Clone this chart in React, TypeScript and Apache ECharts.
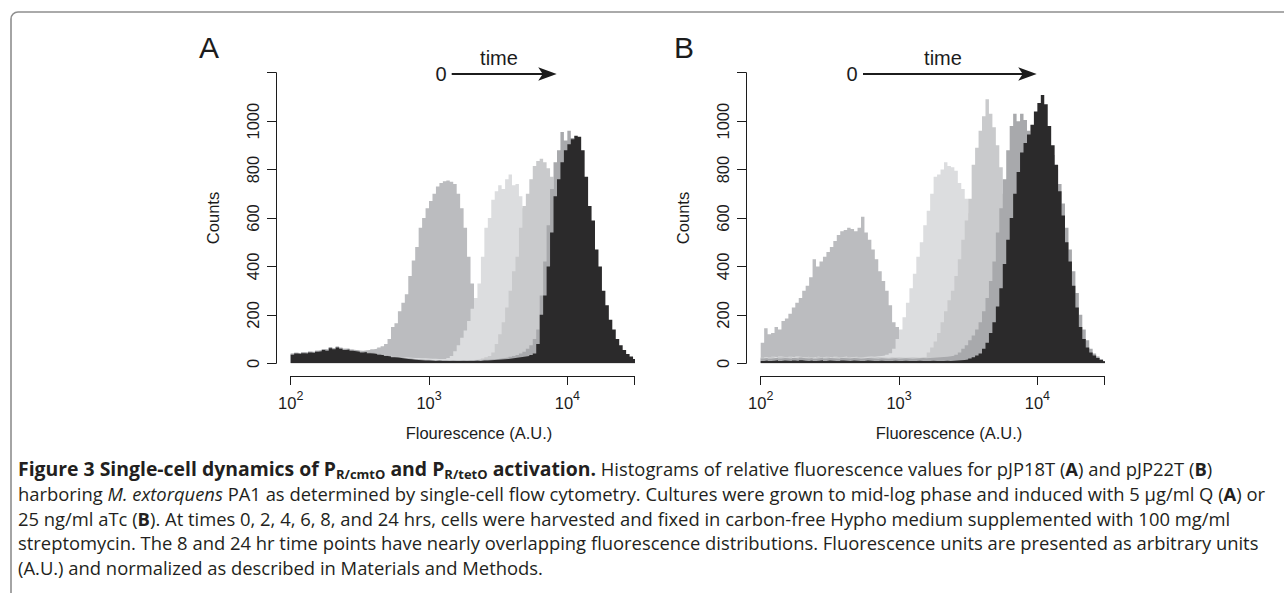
import React, { useEffect, useRef } from "react";
import * as echarts from "echarts";

// ---- histogram binning (log10 of fluorescence) ----
const LOG_START = 2; // first bin starts at 10^2
const BIN_WIDTH = 0.025; // decades per bin
const X_MIN = 100;
const X_MAX = 30480; // right end of the fluorescence axis
const Y_MAX = 1200;
const Y_STEP = 200;

const TIME_LABELS = ["0 h", "2 h", "4 h", "6 h", "8–24 h"];
const SHADES = ["#bbbcbf", "#dcdddf", "#c9cacc", "#a8a9ac", "#2b2a2b"];

// ---- Panel A (pJP18T, Q induction): counts per bin ----
const A_T0 = [
  39, 44, 42, 46, 44, 49, 47, 52, 53, 58, 56, 66, 63, 69, 64, 60, 61, 57, 55, 53, 52, 54, 55, 58,
  60, 65, 70, 80, 100, 150, 165, 215, 250, 285, 360, 425, 480, 560, 600, 640, 670, 700, 730, 745,
  752, 755, 750, 740, 700, 640, 560, 440, 330, 260, 190, 140, 100, 70, 50, 36,
  27, 21, 17, 14, 12, 11, 10, 9, 8, 8, 7, 7, 6, 6, 5, 5, 5, 4, 4, 4, 4, 3, 3, 3, 3, 3, 2, 2, 2, 2,
  2, 2, 2, 1, 1, 1, 1, 1, 1, 1,
];
const A_T2 = [
  37, 43, 40, 45, 42, 46, 46, 50, 51, 56, 55, 63, 61, 67, 61, 57, 58, 55, 51, 50, 48, 48, 45, 43,
  41, 38, 35, 33, 31, 29, 27, 26, 25, 24, 23, 22, 22, 21, 21, 20,
  19, 19, 18, 18,
  18, 22, 30, 50, 75, 105, 135, 175, 225, 270, 330, 440, 560, 600, 675, 710, 735, 720, 760, 780,
  735, 740, 690, 640, 560, 470, 380, 290, 210, 150, 100, 70, 48, 32, 22, 16,
  12, 10, 9, 8, 7, 6, 6, 5, 5, 4, 4, 4, 3, 3, 3, 3, 2, 2, 2, 2,
];
const A_T4 = [
  38, 42, 41, 44, 43, 47, 45, 50, 52, 57, 54, 64, 60, 66, 62, 58, 59, 54, 52, 50, 47, 49, 44, 42,
  40, 37, 35, 32, 30, 27, 26, 24, 22, 20, 19, 17, 16, 15, 14, 14,
  13, 12, 13, 12, 12, 11, 12, 11, 11, 12, 12, 13, 14, 15, 17, 20,
  25, 30, 45, 80, 120, 170, 230, 300, 380, 440, 560, 650, 700, 760, 815, 835, 845, 830, 805, 770,
  700, 600, 480, 360, 260, 180, 120, 80, 55, 38, 27, 20,
  15, 12, 10, 9, 8, 7, 6, 6, 5, 5, 4, 4,
];
const A_T6 = [
  40, 44, 42, 46, 45, 48, 47, 52, 54, 58, 56, 66, 62, 68, 64, 60, 60, 56, 54, 52, 49, 50, 46, 44,
  42, 39, 36, 33, 31, 28, 27, 25, 23, 21, 20, 18, 17, 16, 15, 15,
  14, 13, 14, 13, 13, 12, 13, 12, 12, 13, 12, 13, 13, 14, 13, 15, 15, 16, 17, 18,
  20, 22, 24, 27, 30, 34, 40, 48,
  60, 75, 100, 140, 280, 420, 570, 720, 830, 880, 955, 920, 960, 930, 900, 850,
  700, 580, 460, 350, 260, 190, 140, 100, 70, 50, 36, 26, 18, 13, 10, 8,
];
const A_T24 = [
  35, 40, 38, 42, 40, 45, 43, 48, 50, 55, 52, 62, 58, 65, 60, 55, 57, 52, 50, 48, 45, 47, 42, 40,
  38, 35, 33, 30, 28, 25, 24, 22, 20, 18, 17, 15, 14, 13, 12, 12,
  11, 10, 11, 10, 10, 9, 10, 9, 9, 10, 9, 10, 10, 11, 10, 12, 12, 13, 14, 15, 16, 17, 18, 20, 22, 24, 26, 28,
  30, 34, 40, 80, 200, 280, 400, 540, 690, 760, 830, 880, 905, 925, 940, 935,
  880, 770, 650, 590, 470, 400, 300, 240, 180, 140, 100, 75, 55, 38, 28, 18,
];

// ---- Panel B (pJP22T, aTc induction): counts per bin ----
const B_T0 = [
  85, 145, 120, 125, 150, 140, 175, 185, 205, 230, 250, 270, 300, 320, 355, 430, 400, 420, 440, 460,
  480, 505, 530, 545, 550, 560, 555, 545, 560, 605, 540, 510, 470, 430, 380, 340, 300, 240, 170, 150,
  110, 80, 55, 40, 30, 22, 17, 14,
  12, 10, 9, 8, 7, 7, 6, 6, 5, 5, 5, 4, 4, 4, 4, 3, 3, 3, 3, 3,
  2, 2, 2, 2, 2, 2, 2, 2,
  1, 1, 1, 1, 1, 1, 1, 1, 1, 1, 1, 1, 1, 1, 1, 1, 1, 1, 1, 1, 1, 1, 1, 1,
];
const B_T2 = [
  22, 26, 24, 27, 25, 28, 26, 24, 27, 25, 28, 26, 25, 27, 24, 26, 28, 25, 27, 26, 24, 27, 25, 26,
  28, 25, 26, 27, 24, 26, 27, 28, 27, 29, 30, 32,
  35, 42, 60, 100, 140, 190, 250, 310, 370, 440, 500, 570, 630, 700, 770, 780, 800, 830, 815, 810,
  795, 745, 720, 680, 620, 540, 450, 360, 280, 210, 150, 100, 70, 50, 35, 25,
  18, 14, 11, 9, 8, 7, 6, 5, 5, 4, 4, 4, 3, 3, 3, 3, 2, 2, 2, 2, 2, 2, 1, 1, 1, 1, 1, 1,
];
const B_T4 = [
  24, 23, 26, 25, 22, 27, 25, 24, 26, 23, 25, 27, 24, 26, 25, 23, 26, 24, 25, 27, 23, 25, 26, 24,
  25, 27, 24, 25, 26, 24, 23, 25, 24, 26, 25, 24, 23, 25, 24, 25, 24, 23, 24, 25, 24, 23, 25, 25,
  45, 65, 90, 125, 170, 215, 260, 300, 360, 430, 510, 590, 680, 820, 890, 960, 1020, 1090, 1030, 975,
  900, 810, 700, 580, 460, 350, 260, 190, 140, 100, 70, 50,
  35, 25, 18, 13, 10, 8, 7, 6, 5, 4, 4, 3, 3, 3, 2, 2, 2, 2, 1, 1,
];
const B_T6 = [
  20, 22, 19, 21, 23, 20, 22, 21, 19, 22, 20, 23, 21, 20, 22, 19, 21, 23, 20, 22,
  21, 20, 19, 22, 21, 20, 22, 21, 19, 20, 22, 21, 20, 19, 21, 20, 19, 20, 21, 19,
  20, 21, 20, 19, 20, 21, 22, 21, 22, 23, 24, 25, 26, 27, 29, 31,
  35, 45, 60, 75, 95, 115, 140, 170, 215, 270, 340, 420, 540, 640, 760, 880, 980, 1030, 1000, 1030,
  1005, 960, 930, 930, 920, 900, 870, 840, 860, 800, 740, 660, 560, 470, 380, 290, 200, 140, 95, 60,
  40, 28, 18, 10,
];
const B_T24 = [
  10, 12, 9, 11, 13, 10, 12, 11, 9, 12, 10, 13, 11, 10, 12, 9, 11, 13, 10, 12,
  11, 10, 9, 12, 11, 10, 12, 11, 9, 10, 12, 11, 10, 9, 11, 10, 9, 10, 11, 9,
  10, 11, 10, 9, 10, 11, 10, 9, 10, 11, 10, 9, 10, 11, 10, 11,
  12, 13, 14, 16, 20, 25, 32, 40, 60, 85, 125, 170, 235, 310, 410, 510, 600, 700, 790, 870,
  910, 945, 985, 1040, 1075, 1108, 1070, 980, 900, 820, 710, 610, 500, 420, 320, 230, 150, 100, 65, 45,
  32, 22, 14, 8,
];

const PANEL_SERIES = [
  [A_T0, A_T2, A_T4, A_T6, A_T24],
  [B_T0, B_T2, B_T4, B_T6, B_T24],
];
const PANEL_LETTERS = ["A", "B"];
const X_TITLES = ["Flourescence (A.U.)", "Fluorescence (A.U.)"];
const Y_TITLE = "Counts";

const CAPTION = [
  "{t|Figure 3 Single-cell dynamics of P}{ts|R/cmtO}{t|\u00a0and P}{ts|R/tetO}{t|\u00a0activation.}\u00a0Histograms of relative fluorescence values for pJP18T ({b|A}) and pJP22T ({b|B})",
  "harboring {i|M. extorquens}\u00a0PA1 as determined by single-cell flow cytometry. Cultures were grown to mid-log phase and induced with 5 μg/ml Q ({b|A}) or",
  "25 ng/ml aTc ({b|B}). At times 0, 2, 4, 6, 8, and 24 hrs, cells were harvested and fixed in carbon-free Hypho medium supplemented with 100 mg/ml",
  "streptomycin. The 8 and 24 hr time points have nearly overlapping fluorescence distributions. Fluorescence units are presented as arbitrary units",
  "(A.U.) and normalized as described in Materials and Methods.",
];

// ---- layout (pixels) ----
const W = 1284;
const H = 593;
const CHART_FONT = "'Liberation Sans', Arial, Helvetica, sans-serif";
const CAPTION_FONT = "'Open Sans', 'Noto Sans', sans-serif";
const INK = "#1c1c1c";
const CAP_INK = "#231f20";
const GRID_LEFTS = [290.7, 760.7];
const GRID_TOP = 72.7;
const GRID_W = 343.6;
const GRID_H = 290.6;
const CAP_SIZE = 18.4;
const CAP_TITLE = 19.4;
const CAP_LH = 24;

function toSteps(values: number[]) {
  const pts = values.map((v, k) => [Math.pow(10, LOG_START + k * BIN_WIDTH), v]);
  pts.push([Math.pow(10, LOG_START + values.length * BIN_WIDTH), values[values.length - 1]]);
  return pts;
}

function text(x: number, y: number, str: string, extra: any = {}, rotation = 0) {
  return {
    type: "text",
    x,
    y,
    rotation,
    silent: true,
    style: {
      text: str,
      fill: INK,
      fontFamily: CHART_FONT,
      fontSize: 16.5,
      align: "center",
      verticalAlign: "middle",
      textAlign: "center",
      textVerticalAlign: "middle",
      ...extra,
    },
  };
}

function arrow(x0: number, x1: number, y: number) {
  return [
    {
      type: "line",
      silent: true,
      shape: { x1: x0, y1: y, x2: x1 - 12, y2: y },
      style: { stroke: INK, lineWidth: 1.8 },
    },
    {
      type: "polygon",
      silent: true,
      shape: {
        points: [
          [x1 - 18.5, y - 6.7],
          [x1, y],
          [x1 - 18.5, y + 6.7],
          [x1 - 14, y],
        ],
      },
      style: { fill: INK },
    },
  ];
}

function buildOption() {
  const grid = GRID_LEFTS.map((left) => ({ left, top: GRID_TOP, width: GRID_W, height: GRID_H }));

  const xAxis = GRID_LEFTS.map((_, gi) => ({
    type: "log",
    logBase: 10,
    gridIndex: gi,
    min: X_MIN,
    max: X_MAX,
    position: "bottom",
    offset: 12.7,
    axisLine: { show: true, onZero: false, lineStyle: { color: INK, width: 1 } },
    axisTick: { show: true, length: 9, lineStyle: { color: INK, width: 1 } },
    minorTick: { show: false },
    splitLine: { show: false },
    axisLabel: {
      margin: 13,
      formatter: (v: number) => {
        const e = Math.log10(v);
        const r = Math.round(e);
        return Math.abs(e - r) < 1e-6 ? `{b|10}{s|${r}}` : "";
      },
      rich: {
        b: { fontSize: 16.5, fontFamily: CHART_FONT, color: INK, lineHeight: 22, verticalAlign: "bottom" },
        s: { fontSize: 12.5, fontFamily: CHART_FONT, color: INK, lineHeight: 12, verticalAlign: "top" },
      },
    },
  }));

  const yAxis = GRID_LEFTS.map((_, gi) => ({
    type: "value",
    gridIndex: gi,
    min: 0,
    max: Y_MAX,
    interval: Y_STEP,
    position: "left",
    offset: 14.7,
    axisLine: { show: true, onZero: false, lineStyle: { color: INK, width: 1 } },
    axisTick: { show: true, length: 9, lineStyle: { color: INK, width: 1 } },
    splitLine: { show: false },
    axisLabel: {
      rotate: 90,
      margin: 15,
      fontSize: 16.5,
      fontFamily: CHART_FONT,
      color: INK,
      formatter: (v: number) => (v === Y_MAX ? "" : String(v)),
    },
  }));

  const series: any[] = [];
  PANEL_SERIES.forEach((panel, gi) => {
    panel.forEach((vals, si) => {
      series.push({
        type: "line",
        name: `${PANEL_LETTERS[gi]} ${TIME_LABELS[si]}`,
        xAxisIndex: gi,
        yAxisIndex: gi,
        step: "end",
        symbol: "none",
        showSymbol: false,
        silent: true,
        clip: true,
        lineStyle: { width: 0, color: SHADES[si] },
        itemStyle: { color: SHADES[si] },
        areaStyle: { color: SHADES[si], opacity: 1 },
        data: toSteps(vals),
      });
    });
  });

  const capRich = {
    t: { fontWeight: "bold", fontFamily: CAPTION_FONT, fontSize: CAP_TITLE, fill: CAP_INK, color: CAP_INK, lineHeight: CAP_LH, verticalAlign: "middle" },
    ts: { fontWeight: "bold", fontFamily: CAPTION_FONT, fontSize: 13, fill: CAP_INK, color: CAP_INK, lineHeight: 12, verticalAlign: "bottom" },
    b: { fontWeight: "bold", fontFamily: CAPTION_FONT, fontSize: CAP_SIZE, fill: CAP_INK, color: CAP_INK, lineHeight: CAP_LH, verticalAlign: "middle" },
    i: { fontStyle: "italic", fontFamily: CAPTION_FONT, fontSize: CAP_SIZE, fill: CAP_INK, color: CAP_INK, lineHeight: CAP_LH, verticalAlign: "middle" },
  };
  const CAP_Y = [468, 493, 518, 542.5, 567];

  const graphic: any[] = [
    {
      type: "rect",
      silent: true,
      shape: { x: 11, y: 12, width: 1500, height: 800, r: [7, 0, 0, 0] },
      style: { fill: "none", stroke: "#8e8e8e", lineWidth: 1.6 },
    },
    text(209, 47, PANEL_LETTERS[0], { fontSize: 30 }),
    text(684, 47, PANEL_LETTERS[1], { fontSize: 30 }),
    text(441, 74, "0", { fontSize: 20 }),
    text(499, 57.5, "time", { fontSize: 20 }),
    ...arrow(451.7, 556.7, 74),
    text(852, 74, "0", { fontSize: 20 }),
    text(943, 57.5, "time", { fontSize: 20 }),
    ...arrow(863, 1036.7, 74),
    text(213, 218, Y_TITLE, {}, Math.PI / 2),
    text(683, 218, Y_TITLE, {}, Math.PI / 2),
    text(479, 433, X_TITLES[0]),
    text(949, 433, X_TITLES[1]),
    ...CAPTION.map((line, i) => ({
      type: "text",
      x: 18,
      y: CAP_Y[i],
      silent: true,
      style: {
        text: line,
        fill: CAP_INK,
        fontFamily: CAPTION_FONT,
        fontSize: CAP_SIZE,
        lineHeight: CAP_LH,
        align: "left",
        verticalAlign: "middle",
        textAlign: "left",
        textVerticalAlign: "middle",
        rich: capRich,
      },
    })),
  ];

  return {
    animation: false,
    backgroundColor: "#ffffff",
    grid,
    xAxis,
    yAxis,
    series,
    graphic,
  };
}

export default function App() {
  const ref = useRef<HTMLDivElement>(null);
  useEffect(() => {
    document.body.style.margin = "0";
    if (!ref.current) return;
    const chart = echarts.init(ref.current, undefined, { renderer: "svg", width: W, height: H });
    chart.setOption(buildOption() as any);
    return () => chart.dispose();
  }, []);
  return <div ref={ref} style={{ position: "fixed", left: 0, top: 0, width: W, height: H }} />;
}
